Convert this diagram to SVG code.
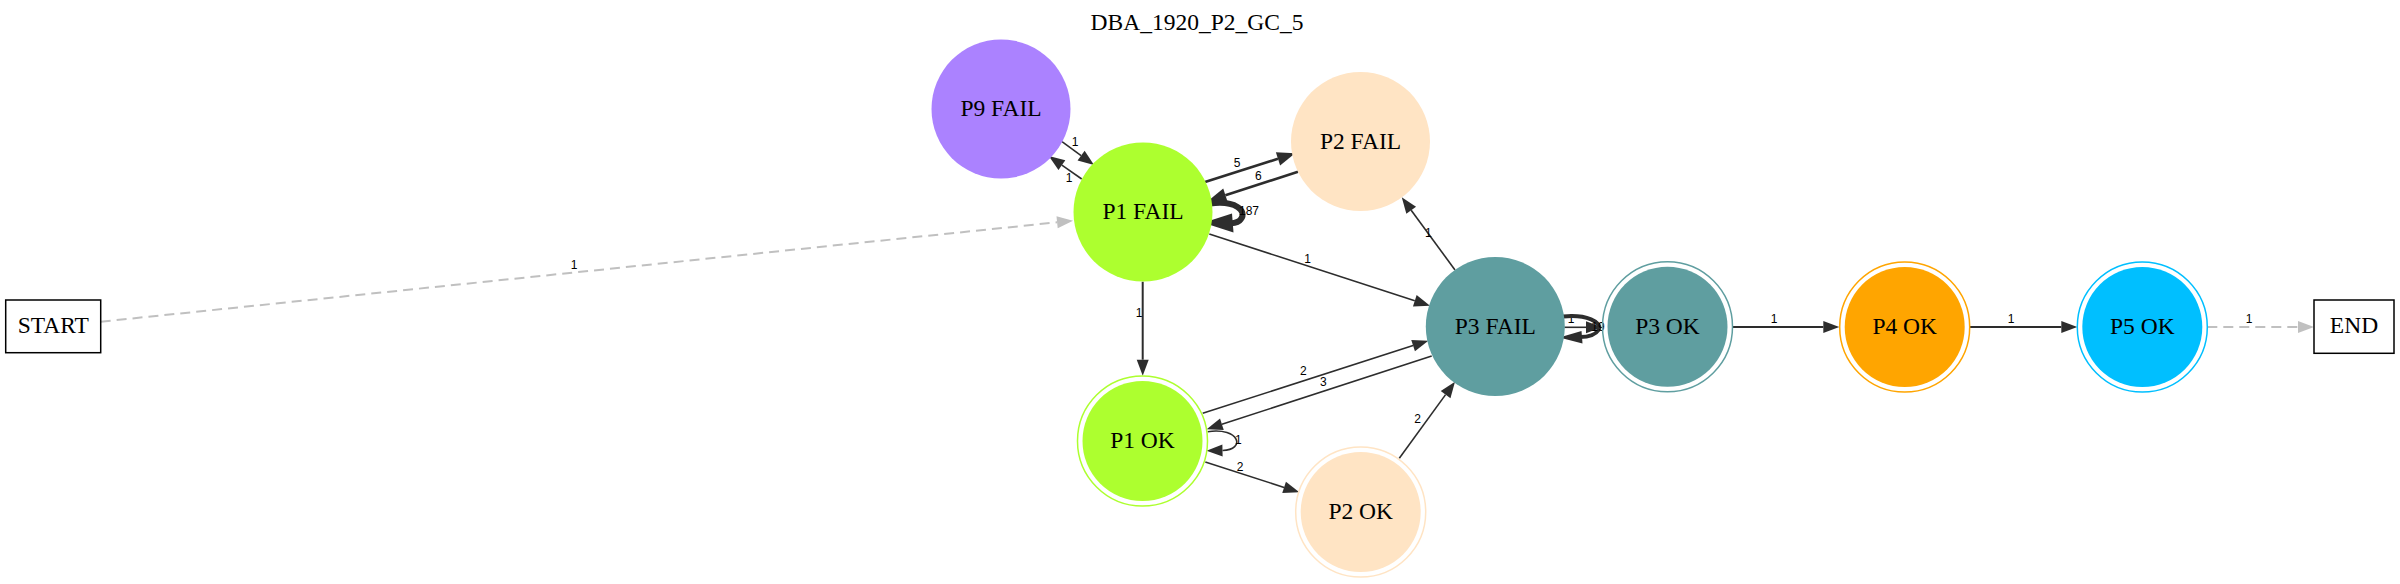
<svg xmlns="http://www.w3.org/2000/svg" width="2400" height="584" viewBox="0 0 2400 584">
<style>
.e{fill:none;stroke:#2d2d2d;stroke-width:1.6}
.ew{fill:none;stroke:#2d2d2d;stroke-width:2}
.g{fill:none;stroke:#c0c0c0;stroke-width:2;stroke-dasharray:10,6}
.lb{font-family:"Liberation Sans",Arial,sans-serif;font-size:12px;fill:#000;text-anchor:middle}
.nt{font-family:"Liberation Serif","Times New Roman",serif;font-size:23.5px;fill:#000;text-anchor:middle}
.ah{fill:#2d2d2d}
</style>
<defs>
<marker id="a" markerUnits="userSpaceOnUse" viewBox="0 -8 20 16" markerWidth="20" markerHeight="16" refX="0" refY="0" orient="auto" overflow="visible"><path d="M0,-6 L16,0 L0,6 z" fill="#2d2d2d"/></marker>
<marker id="am" markerUnits="userSpaceOnUse" viewBox="0 -9 22 18" markerWidth="22" markerHeight="18" refX="0" refY="0" orient="auto" overflow="visible"><path d="M0,-7 L18,0 L0,7 z" fill="#2d2d2d"/></marker>
<marker id="ag" markerUnits="userSpaceOnUse" viewBox="0 -8 20 16" markerWidth="20" markerHeight="16" refX="0" refY="0" orient="auto" overflow="visible"><path d="M0,-6 L16,0 L0,6 z" fill="#c0c0c0"/></marker>
</defs>
<text class="nt" x="1197" y="30">DBA_1920_P2_GC_5</text>
<g id="connectors">
<path class="g" d="M100.7,321.7 L1057.1,222.3" marker-end="url(#ag)"/>
<text class="lb" x="574" y="268.5">1</text>
<path class="e" d="M1062,141.7 L1081.1,155.6" marker-end="url(#a)"/>
<text class="lb" x="1075" y="145.5">1</text>
<path class="e" d="M1081.7,179 L1061.9,165.2" marker-end="url(#a)"/>
<text class="lb" x="1069" y="182">1</text>
<path class="e" style="stroke-width:2.6" d="M1205,182 L1278,158.8" marker-end="url(#am)"/>
<text class="lb" x="1237" y="167">5</text>
<path class="e" style="stroke-width:2.6" d="M1298,171.7 L1225.4,195.2" marker-end="url(#am)"/>
<text class="lb" x="1258.3" y="180">6</text>
<path class="e" style="stroke-width:6" d="M1210,203.5 C1236,200 1247,211 1241,219 C1239,222 1236,223 1231,223.3"/>
<polygon class="ah" points="1203.3,222.7 1232,213.5 1233.5,232.5"/>
<text class="lb" x="1249" y="215">187</text>
<path class="e" d="M1209.3,234 L1414.8,300.8" marker-end="url(#a)"/>
<text class="lb" x="1307.7" y="263">1</text>
<path class="ew" d="M1142.7,281.7 L1142.7,359.7" marker-end="url(#a)"/>
<text class="lb" x="1139" y="317">1</text>
<path class="e" d="M1455,270 L1411.2,210.2" marker-end="url(#a)"/>
<text class="lb" x="1428.3" y="237">1</text>
<path class="e" d="M1202.7,413.3 L1413.1,345.6" marker-end="url(#a)"/>
<text class="lb" x="1303.3" y="375">2</text>
<path class="e" d="M1431.7,356 L1221.9,424.3" marker-end="url(#a)"/>
<text class="lb" x="1323.3" y="386">3</text>
<path class="e" d="M1207.7,431.7 C1240,427 1246,450 1222.5,450.5" marker-end="url(#a)"/>
<text class="lb" x="1238.3" y="444.3">1</text>
<path class="e" d="M1205.3,462 L1284.1,487.4" marker-end="url(#a)"/>
<text class="lb" x="1240" y="471">2</text>
<path class="e" d="M1399.3,458.3 L1445.6,394.6" marker-end="url(#a)"/>
<text class="lb" x="1417.7" y="423.3">2</text>
<path class="e" d="M1564.3,327.3 L1586,327.3" marker-end="url(#a)"/>
<text class="lb" x="1571" y="323.3">1</text>
<path class="e" style="stroke-width:4" d="M1563,316.5 C1586,314 1603,322 1598.5,330 C1595,335.5 1588,337 1580,337"/>
<polygon class="ah" points="1559.3,337.5 1581.5,331 1582.5,343.5"/>
<text class="lb" x="1598" y="330.5">19</text>
<path class="ew" d="M1732.7,327 L1823.3,327" marker-end="url(#a)"/>
<text class="lb" x="1774" y="323.3">1</text>
<path class="ew" d="M1970,327 L2061.3,327" marker-end="url(#a)"/>
<text class="lb" x="2011" y="323.3">1</text>
<path class="g" d="M2207.3,327 L2298,327" marker-end="url(#ag)"/>
<text class="lb" x="2249" y="323.3">1</text>
</g>
<g id="START"><rect x="5.7" y="300" width="95" height="52.7" fill="#fff" stroke="#000" stroke-width="1.5"/><text class="nt" x="53.3" y="333">START</text></g>
<g id="P9_FAIL"><circle cx="1001" cy="109" r="69.5" fill="#ab82ff"/><text class="nt" x="1001" y="116">P9 FAIL</text></g>
<g id="P1_FAIL"><circle cx="1143" cy="212" r="69.5" fill="#adff2f"/><text class="nt" x="1143" y="219">P1 FAIL</text></g>
<g id="P2_FAIL"><circle cx="1360.5" cy="141.5" r="69.5" fill="#ffe4c4"/><text class="nt" x="1360.5" y="148.5">P2 FAIL</text></g>
<g id="P3_FAIL"><circle cx="1495.3" cy="326.5" r="69.5" fill="#5f9ea0"/><text class="nt" x="1495.3" y="333.5">P3 FAIL</text></g>
<g id="P3_OK"><circle cx="1667.5" cy="326.7" r="65" fill="none" stroke="#5f9ea0" stroke-width="1.5"/><circle cx="1667.5" cy="326.7" r="60" fill="#5f9ea0"/><text class="nt" x="1667.5" y="333.7">P3 OK</text></g>
<g id="P4_OK"><circle cx="1904.7" cy="327" r="65" fill="none" stroke="#ffa500" stroke-width="1.5"/><circle cx="1904.7" cy="327" r="60" fill="#ffa500"/><text class="nt" x="1904.7" y="334">P4 OK</text></g>
<g id="P5_OK"><circle cx="2142.3" cy="327" r="65" fill="none" stroke="#00bfff" stroke-width="1.5"/><circle cx="2142.3" cy="327" r="60" fill="#00bfff"/><text class="nt" x="2142.3" y="334">P5 OK</text></g>
<g id="P1_OK"><circle cx="1142.5" cy="441" r="65" fill="none" stroke="#adff2f" stroke-width="1.5"/><circle cx="1142.5" cy="441" r="60" fill="#adff2f"/><text class="nt" x="1142.5" y="448">P1 OK</text></g>
<g id="P2_OK"><circle cx="1360.7" cy="512" r="65" fill="none" stroke="#ffe4c4" stroke-width="1.5"/><circle cx="1360.7" cy="512" r="60" fill="#ffe4c4"/><text class="nt" x="1360.7" y="519">P2 OK</text></g>
<g id="END"><rect x="2314" y="300" width="80" height="53.3" fill="#fff" stroke="#000" stroke-width="1.5"/><text class="nt" x="2354" y="333">END</text></g>
</svg>
